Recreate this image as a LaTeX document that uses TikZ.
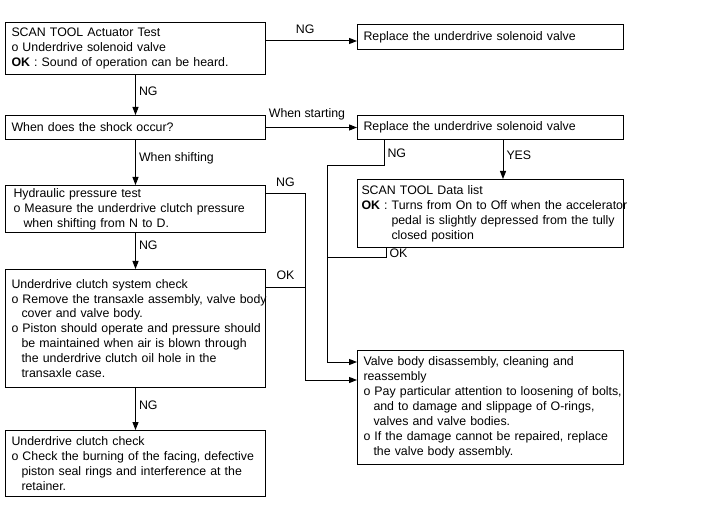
\documentclass[tikz,border=0pt]{standalone}
\usepackage{fontspec}
\setmainfont{Liberation Sans}
\usetikzlibrary{arrows.meta}

\tikzset{
  box/.style={draw, line width=1bp, anchor=north west, align=left, inner xsep=6bp, inner ysep=0pt},
  arr/.style={-{Triangle[length=8bp,width=6bp]}},
  lbl/.style={inner sep=3bp},
  lblup/.style={inner sep=3bp, above, yshift=4bp},
}
\newcommand{\ind}{\hspace*{10bp}}

\begin{document}
\begin{tikzpicture}[x=1bp, y=1bp, yscale=-1, line width=1bp, font=\fontsize{12.4}{15}\selectfont]
\useasboundingbox (0,0) rectangle (720,517);

% left column
\node[box, text width=248bp, minimum height=52bp] (act) at (5,22)
  {SCAN TOOL Actuator Test\\o Underdrive solenoid valve\\\textbf{OK} : Sound of operation can be heard.};
\node[box, text width=248bp, minimum height=24bp] (shock) at (5,115)
  {When does the shock occur?};
\node[box, text width=244bp, minimum height=47bp, inner xsep=8bp] (hyd) at (5,185)
  {Hydraulic pressure test\\o Measure the underdrive clutch pressure\\\ind when shifting from N to D.};
\node[box, text width=248bp, minimum height=118bp] (udcs) at (5,269)
  {Underdrive clutch system check\\\mbox{o Remove the transaxle assembly, valve body}\\\ind cover and valve body.\\\mbox{o Piston should operate and pressure should}\\\ind be maintained when air is blown through\\\ind the underdrive clutch oil hole in the\\\ind transaxle case.};
\node[box, text width=248bp, minimum height=66bp] (udc) at (5,430)
  {Underdrive clutch check\\\mbox{o Check the burning of the facing, defective}\\\ind piston seal rings and interference at the\\\ind retainer.};

% right column
\node[box, text width=254bp, minimum height=25bp] (r1) at (357,24)
  {Replace the underdrive solenoid valve};
\node[box, text width=254bp, minimum height=24bp] (r2) at (357,115)
  {Replace the underdrive solenoid valve};
\node[box, text width=258bp, minimum height=68bp, inner xsep=4bp] (dl) at (357,179)
  {SCAN TOOL Data list\\\mbox{\textbf{OK} : Turns from On to Off when the accelerator}\\\hspace*{30bp}pedal is slightly depressed from the tully\\\hspace*{30bp}closed position};
\node[box, text width=254bp, minimum height=114bp] (vb) at (357,350)
  {Valve body disassembly, cleaning and\\reassembly\\\mbox{o Pay particular attention to loosening of bolts,}\\\ind and to damage and slippage of O-rings,\\\ind valves and valve bodies.\\\mbox{o If the damage cannot be repaired, replace}\\\ind the valve body assembly.};

% connectors
\draw[arr] (act.east |- 0,41) -- node[lblup, pos=0.43] (ngA) {NG} (r1.west |- 0,41);
\draw[arr] (act) -- node[lbl, right, pos=0.4] (ngB) {NG} (shock);
\draw[arr] (shock) -- node[lblup, pos=0.45] (start) {When starting} (r2);
\draw[arr] (shock) -- node[lbl, right, pos=0.4] (shift) {When shifting} (hyd);
\draw[arr] (hyd.east |- 0,194) -- node[lblup] (ngC) {NG} (305,194) |- (vb.west |- 0,380);
\draw (udcs.east |- 0,287) -- node[lblup] (okA) {OK} (305,287);
\draw[arr] (hyd) -- node[lbl, right, pos=0.35] (ngD) {NG} (udcs);
\draw[arr] (udcs) -- node[lbl, right, pos=0.4] (ngE) {NG} (udc);
\draw[arr] (r2.south -| 384,0) -- node[lbl, right] (ngF) {NG} (384,166) -| (327,362) -- (vb.west |- 0,362);
\draw[arr] (r2.south -| 503,0) -- node[lbl, right, pos=0.38] (yes) {YES} (dl.north -| 503,0);
\draw (dl.south -| 386,0) -- node[lbl, right] (okB) {OK} (386,258) -- (327,258);
\end{tikzpicture}
\end{document}
